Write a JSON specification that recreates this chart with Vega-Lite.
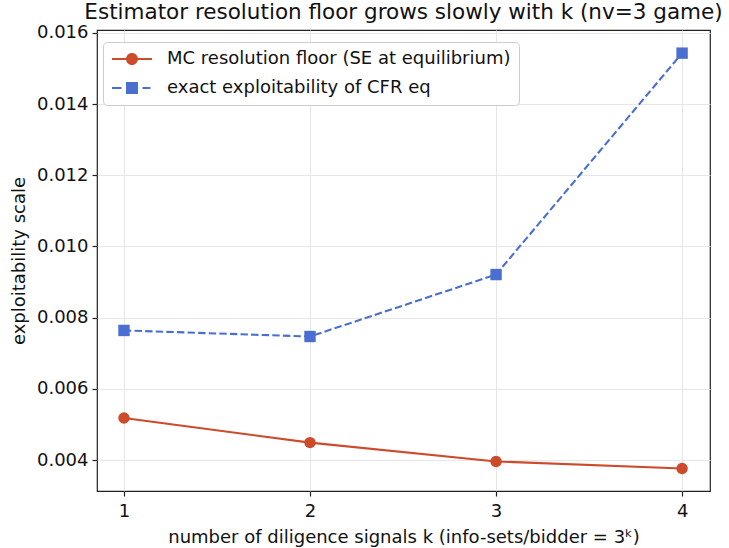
{
  "$schema": "https://vega.github.io/schema/vega-lite/v6.json",
  "width": 613,
  "height": 461,
  "autosize": {"type": "none"},
  "padding": {"left": 97, "top": 30, "right": 19, "bottom": 57},
  "background": "white",
  "title": {
    "text": "Estimator resolution floor grows slowly with k (nv=3 game)",
    "fontSize": 21.5,
    "font": "DejaVu Sans",
    "fontWeight": "normal",
    "color": "#111",
    "offset": 0,
    "anchor": "middle"
  },
  "config": {
    "view": {"stroke": "#222", "strokeWidth": 1.2},
    "font": "DejaVu Sans",
    "axis": {
      "labelFont": "DejaVu Sans",
      "titleFont": "DejaVu Sans",
      "labelFontSize": 18,
      "titleFontSize": 18,
      "titleFontWeight": "normal",
      "labelColor": "#111",
      "titleColor": "#111",
      "gridColor": "#e6e6e6",
      "gridWidth": 1,
      "domain": false,
      "tickColor": "#222",
      "tickSize": 5,
      "tickWidth": 1.2
    }
  },
  "data": {
    "values": [
      {"k": 1, "value": 0.00518, "series": "MC resolution floor (SE at equilibrium)"},
      {"k": 2, "value": 0.00449, "series": "MC resolution floor (SE at equilibrium)"},
      {"k": 3, "value": 0.00396, "series": "MC resolution floor (SE at equilibrium)"},
      {"k": 4, "value": 0.00376, "series": "MC resolution floor (SE at equilibrium)"},
      {"k": 1, "value": 0.00764, "series": "exact exploitability of CFR eq"},
      {"k": 2, "value": 0.00747, "series": "exact exploitability of CFR eq"},
      {"k": 3, "value": 0.00921, "series": "exact exploitability of CFR eq"},
      {"k": 4, "value": 0.01543, "series": "exact exploitability of CFR eq"}
    ]
  },
  "encoding": {
    "x": {
      "field": "k",
      "type": "quantitative",
      "scale": {"domain": [0.855, 4.15], "nice": false, "zero": false},
      "axis": {
        "values": [1, 2, 3, 4],
        "format": "d",
        "title": "number of diligence signals k (info-sets/bidder = 3ᵏ)",
        "titlePadding": 8,
        "labelPadding": 6
      }
    },
    "y": {
      "field": "value",
      "type": "quantitative",
      "scale": {"domain": [0.00313, 0.01608], "nice": false, "zero": false},
      "axis": {
        "values": [0.004, 0.006, 0.008, 0.010, 0.012, 0.014, 0.016],
        "format": ".3f",
        "title": "exploitability scale",
        "titlePadding": 8,
        "labelPadding": 4
      }
    },
    "color": {
      "field": "series",
      "type": "nominal",
      "scale": {
        "domain": ["MC resolution floor (SE at equilibrium)", "exact exploitability of CFR eq"],
        "range": ["#cd4a2b", "#4a6fd0"]
      },
      "legend": {
        "title": null,
        "orient": "none",
        "legendX": 6,
        "legendY": 12,
        "padding": 8,
        "fillColor": "white",
        "strokeColor": "#cccccc",
        "cornerRadius": 4,
        "labelFontSize": 18,
        "labelFont": "DejaVu Sans",
        "labelColor": "#111",
        "labelLimit": 500,
        "symbolSize": 100,
        "labelOffset": 38,
        "rowPadding": 11,
        "symbolType": "circle",
        "encode": {
          "symbols": {
            "update": {
              "shape": {"signal": "datum.value === 'exact exploitability of CFR eq' ? 'M-4,-0.2L-2.1,-0.2L-2.1,0.2L-4,0.2ZM2.1,-0.2L3.7,-0.2L3.7,0.2L2.1,0.2ZM-1.2,-1.2L1.2,-1.2L1.2,1.2L-1.2,1.2Z' : 'M-4,-0.2L-1.1,-0.2L-1.1,0.2L-4,0.2ZM1.1,-0.2L4,-0.2L4,0.2L1.1,0.2ZM1.2,0A1.2,1.2,0,1,1,-1.2,0A1.2,1.2,0,1,1,1.2,0Z'"},
              "fill": {"signal": "scale('color', datum.value)"},
              "stroke": {"value": "transparent"},
              "strokeWidth": {"value": 0},
              "opacity": {"value": 1},
              "fillOpacity": {"value": 1},
              "x": {"value": 21}
            }
          }
        }
      }
    }
  },
  "layer": [
    {
      "mark": {"type": "line", "strokeWidth": 2.1},
      "transform": [{"filter": "datum.series === 'MC resolution floor (SE at equilibrium)'"}]
    },
    {
      "mark": {"type": "line", "strokeWidth": 2.1, "strokeDash": [7.4, 3.2]},
      "transform": [{"filter": "datum.series === 'exact exploitability of CFR eq'"}]
    },
    {
      "mark": {"type": "point", "filled": true, "opacity": 1, "size": 130, "shape": "circle"},
      "transform": [{"filter": "datum.series === 'MC resolution floor (SE at equilibrium)'"}]
    },
    {
      "mark": {"type": "point", "filled": true, "opacity": 1, "size": 130, "shape": "square"},
      "transform": [{"filter": "datum.series === 'exact exploitability of CFR eq'"}]
    }
  ]
}
